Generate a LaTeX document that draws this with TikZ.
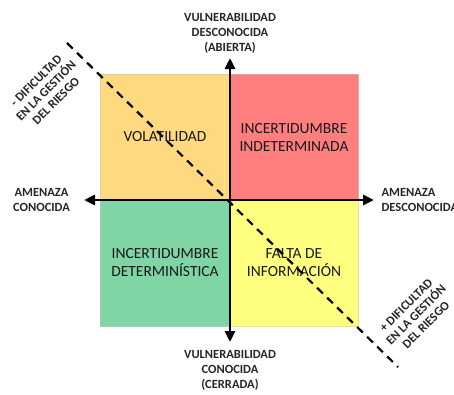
\documentclass[tikz,border=0pt]{standalone}
\usepackage{fontspec}
\setmainfont{Carlito}
\newfontfamily\lblfont{Carlito Bold}
\usetikzlibrary{arrows.meta}
\definecolor{qorange}{HTML}{FFD97F}
\definecolor{qred}{HTML}{FF7F7F}
\definecolor{qgreen}{HTML}{7FD6A4}
\definecolor{qyellow}{HTML}{FFFF7F}
\begin{document}
\begin{tikzpicture}[x=1pt,y=-1pt,
  quad/.style={draw=#1!80!black!60, line width=0.8pt, fill=#1},
  quadtext/.style={font=\fontsize{15.5}{18}\selectfont, align=center, text=black!90},
  axislabel/.style={font=\lblfont\fontsize{12.5}{15}\selectfont, align=center, text=black!85},
  axis/.style={line width=2.8pt, -{Triangle[length=11pt,width=10pt]}},
  diag/.style={line width=2.2pt, dash pattern=on 8pt off 6pt},
  difflabel/.style={font=\lblfont\fontsize{12.5}{14}\selectfont, align=center, rotate=45, text=black!85}]
\useasboundingbox (0,0) rectangle (454,394);

% quadrants
\path[quad=qorange] (100,74) rectangle (230,200);
\path[quad=qred]    (230,74) rectangle (358,200);
\path[quad=qgreen]  (100,200) rectangle (230,326);
\path[quad=qyellow] (230,200) rectangle (358,326);

\node[quadtext] (vol) at (165,137) {VOLATILIDAD};
\node[quadtext] (ind) at (294,137) {INCERTIDUMBRE\\INDETERMINADA};
\node[quadtext] (det) at (165,263) {INCERTIDUMBRE\\DETERMINÍSTICA};
\node[quadtext] (fal) at (294,263) {FALTA DE\\INFORMACIÓN};

% diagonal of risk-management difficulty
\coordinate (dtop) at (67,43);
\coordinate (dbot) at (398,367);
\draw[diag] (dtop) -- (dbot);

% axes
\coordinate (c) at (230,200);
\coordinate (up) at (230,58);
\coordinate (down) at (230,342);
\coordinate (left) at (84,200);
\coordinate (right) at (374,200);
\draw[axis] (c) -- (up);
\draw[axis] (c) -- (down);
\draw[axis] (c) -- (left);
\draw[axis] (c) -- (right);

% axis labels
\node[axislabel] (vtop) at (230,33) {VULNERABILIDAD\\DESCONOCIDA\\(ABIERTA)};
\node[axislabel] (vbot) at (230,370) {VULNERABILIDAD\\CONOCIDA\\(CERRADA)};
\node[axislabel] (aleft) at (41.5,200) {AMENAZA\\CONOCIDA};
\node[axislabel, align=left, anchor=west] (aright) at (378,200) {AMENAZA\\DESCONOCIDA};

% difficulty labels
\node[difflabel] (dminus) at (46,91) {- DIFICULTAD\\EN LA GESTIÓN\\DEL RIESGO};
\node[difflabel] (dplus) at (416,315) {+ DIFICULTAD\\EN LA GESTIÓN\\DEL RIESGO};
\end{tikzpicture}
\end{document}
